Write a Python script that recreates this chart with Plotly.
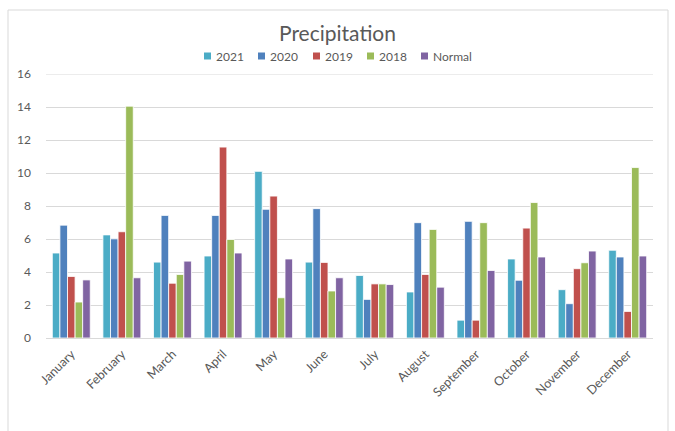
import plotly.graph_objects as go

months = ["January", "February", "March", "April", "May", "June", "July",
          "August", "September", "October", "November", "December"]
s2021 = [5.15, 6.25, 4.6, 4.97, 10.1, 4.6, 3.79, 2.79, 1.08, 4.79, 2.93, 5.32]
s2020 = [6.84, 6.01, 7.43, 7.43, 7.8, 7.84, 2.34, 6.99, 7.07, 3.5, 2.08, 4.91]
s2019 = [3.73, 6.44, 3.32, 11.57, 8.6, 4.58, 3.28, 3.85, 1.08, 6.66, 4.2, 1.61]
s2018 = [2.18, 14.05, 3.85, 5.97, 2.44, 2.85, 3.28, 6.58, 6.99, 8.21, 4.56, 10.33]
normal = [3.52, 3.65, 4.66, 5.15, 4.79, 3.65, 3.24, 3.08, 4.09, 4.91, 5.27, 4.97]

series = [("2021", s2021, "#4BACC6"), ("2020", s2020, "#4F81BD"),
          ("2019", s2019, "#C0504D"), ("2018", s2018, "#9BBB59"),
          ("Normal", normal, "#8064A2")]

W, H = 675, 431
L, R, T, B = 46, 22, 74, 93
PW, PH = W - L - R, H - T - B


def px(x):
    return (x - L) / PW


def py(y):
    return (H - B - y) / PH


fig = go.Figure()
for name, vals, col in series:
    fig.add_trace(go.Bar(x=months, y=vals, name=name, showlegend=False,
                         marker=dict(color=col, line=dict(color="rgba(255,255,255,0.8)", width=1))))

font = "Lato, 'Open Sans', sans-serif"
fig.update_layout(
    width=W, height=H,
    margin=dict(l=L, r=R, t=T, b=B, autoexpand=False),
    paper_bgcolor="white", plot_bgcolor="white",
    barmode="group", bargap=0.25, bargroupgap=0,
    font=dict(family=font, color="#595959", size=12),
    title=dict(text="Precipitation", x=0.5, xref="container", xanchor="center",
               y=1 - 34 / H, yref="container", yanchor="middle",
               font=dict(size=21, color="#595959", family=font)),
    yaxis=dict(range=[0, 16], tickvals=[0, 2, 4, 6, 8, 10, 12, 14, 16],
               showgrid=True, gridcolor="#D9D9D9",
               gridwidth=1, zeroline=False, showline=False,
               ticks="", ticklabelstandoff=14, tickfont=dict(size=12, color="#595959")),
    xaxis=dict(showline=True, linecolor="#D9D9D9", linewidth=1, ticks="",
               tickangle=-45, ticklabelstandoff=3, tickfont=dict(size=12.5, color="#595959")),
)

# top gridline at 16 (plotly hides gridlines on the plot edge)
fig.add_shape(type="line", xref="paper", yref="y", x0=0, x1=1, y0=16, y1=16,
              line=dict(color="#D9D9D9", width=1), layer="below")

# legend (Excel-style small squares)
leg_x = [204, 258, 313, 367, 421]
leg_y = 56
for (name, vals, col), lx in zip(series, leg_x):
    fig.add_shape(type="rect", xref="paper", yref="paper",
                  x0=px(lx), x1=px(lx + 7), y0=py(leg_y + 3.5), y1=py(leg_y - 3.5),
                  fillcolor=col, line=dict(width=0))
    fig.add_annotation(x=px(lx + 10), y=py(leg_y), xref="paper", yref="paper",
                       text=name, showarrow=False, xanchor="left", yanchor="middle",
                       font=dict(size=12, color="#595959", family=font))

fig.add_shape(type="rect", xref="paper", yref="paper",
              x0=px(8), x1=px(668), y0=py(440), y1=py(10),
              line=dict(color="#D9D9D9", width=1), layer="below")
fig.write_html("out.html")
